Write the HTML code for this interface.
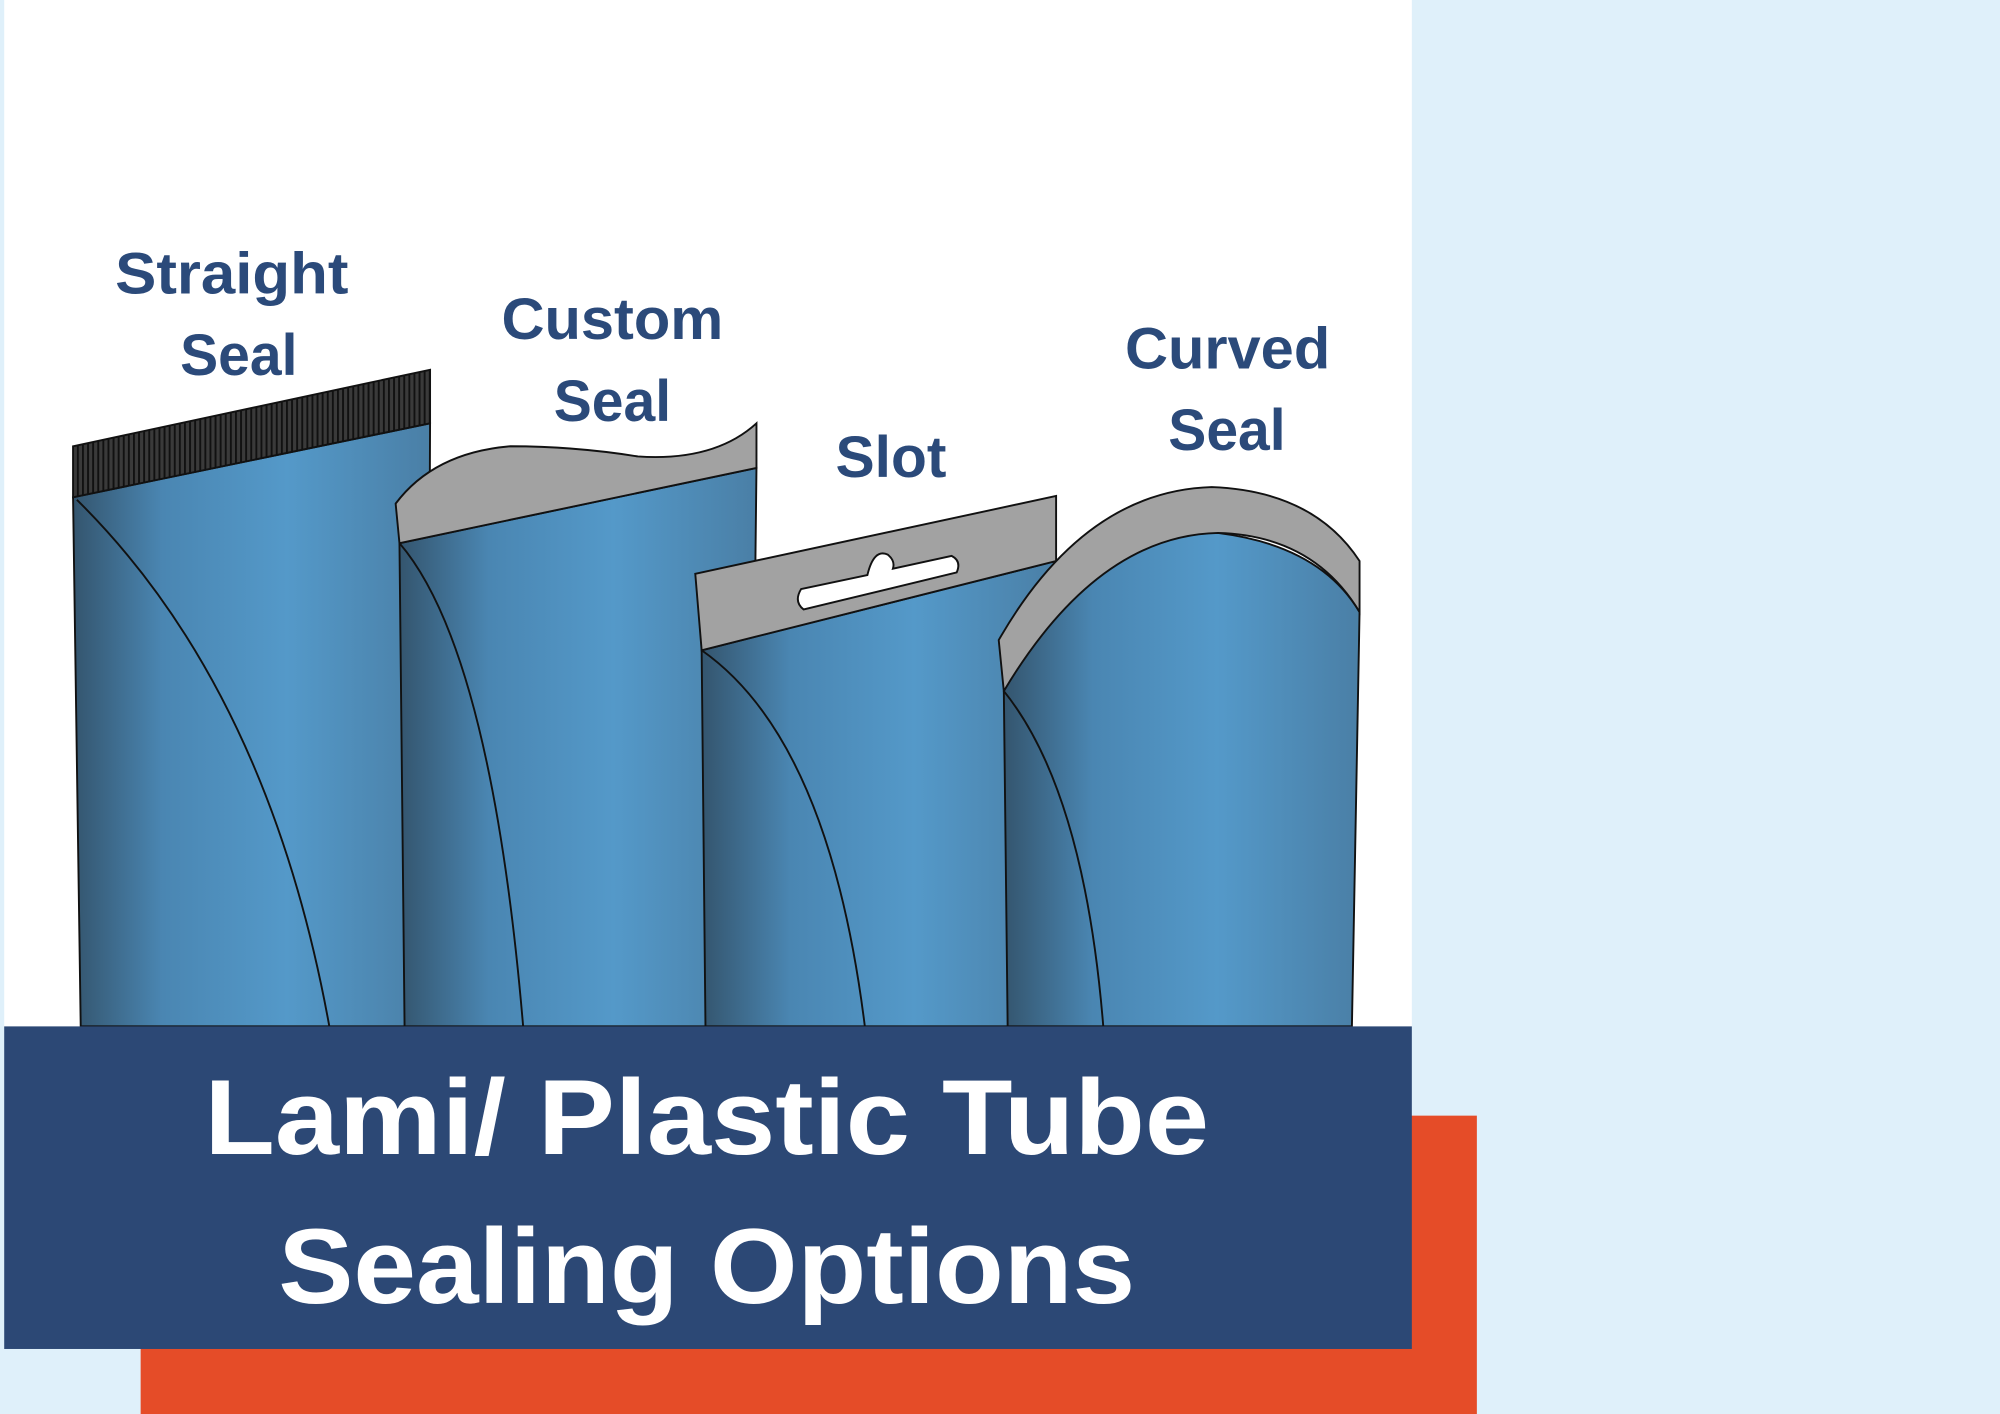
<!DOCTYPE html>
<html><head><meta charset="utf-8"><style>
html,body{margin:0;padding:0;background:#dff0fa;}
svg{display:block}
</style></head><body>
<svg width="2000" height="1414" viewBox="0 0 1568 1109" xmlns="http://www.w3.org/2000/svg">
<defs>
<linearGradient id="b" x1="0" y1="0" x2="1" y2="0">
<stop offset="0" stop-color="#34556e"/>
<stop offset="0.25" stop-color="#4a86b2"/>
<stop offset="0.6" stop-color="#5499c9"/>
<stop offset="1" stop-color="#4a7fa6"/>
</linearGradient>
<pattern id="st" width="4" height="10" patternUnits="userSpaceOnUse">
<rect width="4" height="10" fill="#3a3a3a"/><rect width="1.5" height="10" fill="#111"/>
</pattern>
</defs>
<rect width="1568" height="1109" fill="#dff0fa"/>
<rect x="3" y="0" width="1104" height="805" fill="#fff"/>
<path d="M57,390 L337,332 L335,805 L63,805 Z" fill="url(#b)" stroke="#111" stroke-width="1.5"/>
<path d="M57,350 L337,290 L337,332 L57,390 Z" fill="url(#st)" stroke="#111" stroke-width="1.5"/>
<path d="M60,392 Q210,540 258,805" fill="none" stroke="#111" stroke-width="1.5"/>
<path d="M313,426 L593,367 L588,805 L317,805 Z" fill="url(#b)" stroke="#111" stroke-width="1.5"/>
<path d="M310,395 Q340,355 400,350 Q450,350 500,358 Q560,362 593,332 L593,367 L313,426 Z" fill="#a2a2a2" stroke="#111" stroke-width="1.5"/>
<path d="M313,426 Q385,510 410,805" fill="none" stroke="#111" stroke-width="1.5"/>
<path d="M550,510 L828,440 L820,805 L553,805 Z" fill="url(#b)" stroke="#111" stroke-width="1.5"/>
<path d="M545,450 L828,389 L828,440 L550,510 Z" fill="#a2a2a2" stroke="#111" stroke-width="1.5"/>
<path d="M628,462 L680,451 Q685,430 696,435 Q702,440 700,446 L746,436 Q754,440 750,449 L630,478 Q622,472 628,462 Z" fill="#fff" stroke="#111" stroke-width="1.5"/>
<path d="M550,510 Q650,580 678,805" fill="none" stroke="#111" stroke-width="1.5"/>
<path d="M787,542 Q870,400 955,418 Q1035,428 1066,480 L1060,805 L790,805 Z" fill="url(#b)" stroke="#111" stroke-width="1.5"/>
<path d="M783,502 Q850,385 950,382 Q1030,385 1066,440 L1066,480 Q1030,420 955,418 Q860,420 787,542 Z" fill="#a2a2a2" stroke="#111" stroke-width="1.5"/>
<path d="M787,542 Q850,620 865,805" fill="none" stroke="#111" stroke-width="1.5"/>
<g font-family="Liberation Sans, sans-serif" font-weight="bold" font-size="46" fill="#2b4a7a" lengthAdjust="spacingAndGlyphs">
<text x="90" y="230" textLength="183" lengthAdjust="spacingAndGlyphs">Straight</text>
<text x="141" y="294" textLength="92" lengthAdjust="spacingAndGlyphs">Seal</text>
<text x="393" y="266" textLength="174" lengthAdjust="spacingAndGlyphs">Custom</text>
<text x="434" y="330" textLength="92" lengthAdjust="spacingAndGlyphs">Seal</text>
<text x="655" y="374" textLength="87" lengthAdjust="spacingAndGlyphs">Slot</text>
<text x="882" y="289" textLength="161" lengthAdjust="spacingAndGlyphs">Curved</text>
<text x="916" y="353" textLength="92" lengthAdjust="spacingAndGlyphs">Seal</text>
</g>
<rect x="110" y="875" width="1048" height="234" fill="#e54c28"/>
<rect x="3" y="805" width="1104" height="253" fill="#2c4875"/>
<g font-family="Liberation Sans, sans-serif" font-weight="bold" font-size="84" fill="#fff">
<text x="160" y="905" textLength="788" lengthAdjust="spacingAndGlyphs">Lami/ Plastic Tube</text>
<text x="218" y="1022" textLength="672" lengthAdjust="spacingAndGlyphs">Sealing Options</text>
</g>
</svg>
</body></html>
